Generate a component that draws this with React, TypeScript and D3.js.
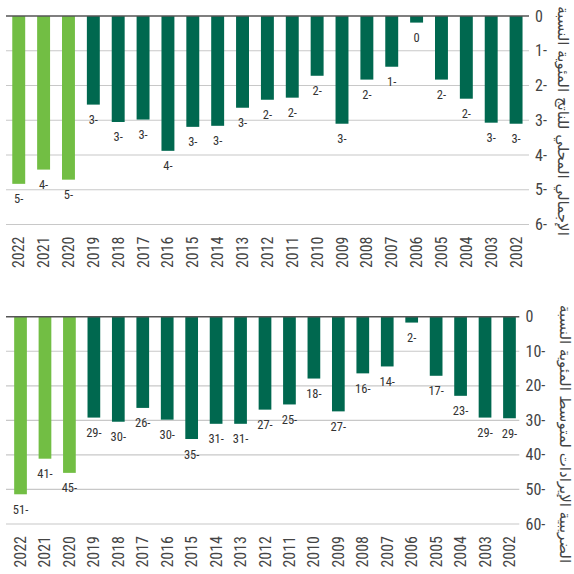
import React from "react";
import * as d3 from "d3";

// Fiscal balance, 2022 back to 2002 (left to right)
const years = [
  "2022", "2021", "2020", "2019", "2018", "2017", "2016", "2015", "2014", "2013", "2012",
  "2011", "2010", "2009", "2008", "2007", "2006", "2005", "2004", "2003", "2002",
];

// Deficit as a share of GDP (positive = deficit depth)
const gdpShare = [
  4.83, 4.42, 4.71, 2.55, 3.05, 2.98, 3.88, 3.19, 3.16, 2.64, 2.41,
  2.35, 1.72, 3.1, 1.83, 1.46, 0.19, 1.83, 2.38, 3.07, 3.1,
];

// Deficit as a share of average tax revenue
const taxShare = [
  51.4, 41.1, 45.2, 29.2, 30.4, 26.4, 29.8, 35.4, 31.0, 31.0, 26.9,
  25.4, 17.9, 27.4, 16.4, 14.4, 1.7, 17.1, 22.9, 29.2, 29.4,
];

const gdpTicks = [0, 1, 2, 3, 4, 5, 6];
const taxTicks = [0, 10, 20, 30, 40, 50, 60];

// Years from 2020 onward are highlighted
const highlightYears = ["2022", "2021", "2020"];

const gdpTitle = "النسبة المئوية للناتج المحلي الإجمالي";
const taxTitle = "النسبة المئوية لمتوسط الإيرادات الضريبية";

const LIGHT = "#72be44";
const DARK = "#00684f";
const NUM_FONT = "'Liberation Sans Narrow', 'Arial Narrow', 'Roboto Condensed', 'DejaVu Sans Condensed', sans-serif";
const AR_FONT = "'DejaVu Sans', 'Noto Sans', sans-serif";

const fmt = (v: number) => {
  const r = Math.round(v);
  return r === 0 ? "0" : `${r}-`;
};

// Axis titles run top to bottom with words laid out in reading sequence
const wordsInSequence = (s: string) => s.split(" ").join("\u200E \u200E");

type PanelProps = {
  values: number[];
  ticks: number[];
  title: string;
  top: number;
  bottom: number;
  gridLeft: number;
  gridRight: number;
  barLeft: number;
  barRight: number;
  tickX: number;
  titleX: number;
  titleY: number;
};

function Panel(p: PanelProps) {
  const y = d3
    .scaleLinear()
    .domain([0, p.ticks[p.ticks.length - 1]])
    .range([p.top, p.bottom]);
  const x = d3
    .scaleBand<string>()
    .domain(years)
    .range([p.barLeft, p.barRight])
    .paddingInner(0.48)
    .paddingOuter(0.24);

  return (
    <g>
      {p.ticks.map((t) =>
        t === 0 ? null : (
          <line
            key={"g" + t}
            x1={p.gridLeft}
            x2={p.gridRight}
            y1={y(t)}
            y2={y(t)}
            stroke="#c8c8c8"
            strokeWidth={1.2}
          />
        )
      )}
      {years.map((yr, i) => (
        <rect
          key={yr}
          x={x(yr)}
          y={y(0)}
          width={x.bandwidth()}
          height={y(p.values[i]) - y(0)}
          fill={highlightYears.includes(yr) ? LIGHT : DARK}
        />
      ))}
      <line
        x1={p.gridLeft}
        x2={p.gridRight}
        y1={y(0)}
        y2={y(0)}
        stroke="#555"
        strokeWidth={1.4}
      />
      {years.map((yr, i) => (
        <text
          key={"v" + yr}
          x={(x(yr) as number) + x.bandwidth() / 2}
          y={y(p.values[i]) + 15}
          textAnchor="middle"
          dominantBaseline="central"
          fontFamily={NUM_FONT}
          fontSize={12.5}
          fill="#333"
        >
          {fmt(p.values[i])}
        </text>
      ))}
      {p.ticks.map((t) => (
        <text
          key={"t" + t}
          x={p.tickX}
          y={y(t)}
          dominantBaseline="central"
          fontFamily={NUM_FONT}
          fontSize={16}
          fill="#444"
        >
          {t === 0 ? "0" : `${t}-`}
        </text>
      ))}
      {years.map((yr) => {
        const cx = (x(yr) as number) + x.bandwidth() / 2;
        const cy = p.bottom + 12;
        return (
          <text
            key={"x" + yr}
            transform={`translate(${cx},${cy}) rotate(-90)`}
            textAnchor="end"
            dominantBaseline="central"
            fontFamily={NUM_FONT}
            fontSize={16}
            fill="#444"
          >
            {yr}
          </text>
        );
      })}
      <text
        transform={`translate(${p.titleX},${p.titleY}) rotate(90)`}
        textAnchor="middle"
        dominantBaseline="central"
        fontFamily={AR_FONT}
        fontSize={15}
        fill="#444"
        direction="ltr"
      >
        {wordsInSequence(p.title)}
      </text>
    </g>
  );
}

export default function App() {
  return (
    <div style={{ position: "fixed", left: 0, top: 0 }}>
      <svg width={574} height={574} style={{ display: "block", background: "#fff" }}>
        <Panel
          values={gdpShare}
          ticks={gdpTicks}
          title={gdpTitle}
          top={16}
          bottom={224.5}
          gridLeft={6}
          gridRight={529}
          barLeft={6.3}
          barRight={528.5}
          tickX={535}
          titleX={563}
          titleY={121}
        />
        <Panel
          values={taxShare}
          ticks={taxTicks}
          title={taxTitle}
          top={316.7}
          bottom={524}
          gridLeft={6}
          gridRight={519.3}
          barLeft={8.3}
          barRight={521.7}
          tickX={525.5}
          titleX={565}
          titleY={434}
        />
      </svg>
    </div>
  );
}
